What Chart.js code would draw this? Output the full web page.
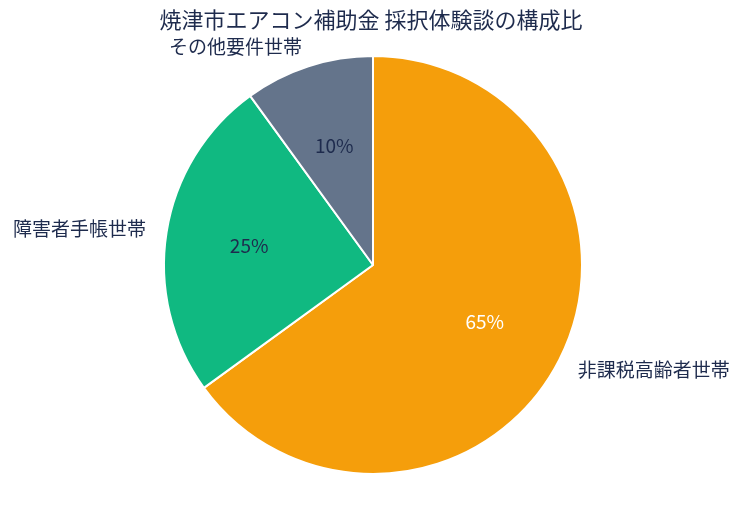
<!DOCTYPE html>
<html>
<head>
<meta charset="utf-8">
<script src="https://cdn.jsdelivr.net/npm/chart.js@4"></script>
<style>
  html, body { margin: 0; padding: 0; background: #ffffff; }
  #wrap { width: 744px; height: 507px; position: relative; }
</style>
</head>
<body>
<div id="wrap"><canvas id="pieChart" width="744" height="507"></canvas></div>
<script>
// データ
const categories = ['非課税高齢者世帯', '障害者手帳世帯', 'その他要件世帯'];
const shares = [65, 25, 10];
const sliceColors = ['#f59e0b', '#10b981', '#64748b'];
const pctColors = ['#ffffff', '#1e2b4d', '#1e2b4d'];
const chartTitle = '焼津市エアコン補助金 採択体験談の構成比';

const FONT = '"Noto Sans CJK JP", "Noto Sans", sans-serif';
const textColor = '#1e2b4d';

// タイトルとラベルを描くプラグイン
const labelPlugin = {
    id: 'pieLabels',
    afterDatasetsDraw(chart) {
        const ctx = chart.ctx;
        const meta = chart.getDatasetMeta(0);
        const total = shares.reduce((a, b) => a + b, 0);
        ctx.save();
        ctx.textBaseline = 'middle';
        meta.data.forEach((arc, i) => {
            const mid = (arc.startAngle + arc.endAngle) / 2;
            const r = arc.outerRadius;
            const cx = arc.x, cy = arc.y;
            // 外側のラベル
            const lx = cx + Math.cos(mid) * r * 1.1;
            const ly = cy + Math.sin(mid) * r * 1.1;
            ctx.font = '19px ' + FONT;
            ctx.fillStyle = textColor;
            ctx.textAlign = Math.cos(mid) >= 0 ? 'left' : 'right';
            ctx.fillText(categories[i], lx, ly);
            // 内側のパーセント
            const px = cx + Math.cos(mid) * r * 0.6;
            const py = cy + Math.sin(mid) * r * 0.6;
            ctx.font = '19px ' + FONT;
            ctx.fillStyle = pctColors[i];
            ctx.textAlign = 'center';
            ctx.fillText(Math.round(shares[i] / total * 100) + '%', px, py);
        });
        // タイトル
        ctx.font = '22px ' + FONT;
        ctx.fillStyle = textColor;
        ctx.textAlign = 'center';
        ctx.fillText(chartTitle, 371, 20);
        ctx.restore();
    }
};

const ctx = document.getElementById('pieChart').getContext('2d');
const pieChart = new Chart(ctx, {
    type: 'pie',
    data: {
        labels: categories,
        datasets: [{
            data: shares,
            backgroundColor: sliceColors,
            borderColor: '#ffffff',
            borderWidth: 2
        }]
    },
    options: {
        responsive: false,
        animation: false,
        layout: {
            padding: { left: 163, right: 161, top: 55, bottom: 32 }
        },
        plugins: {
            legend: { display: false },
            title: { display: false },
            tooltip: { enabled: false }
        }
    },
    plugins: [labelPlugin]
});
</script>
</body>
</html>
